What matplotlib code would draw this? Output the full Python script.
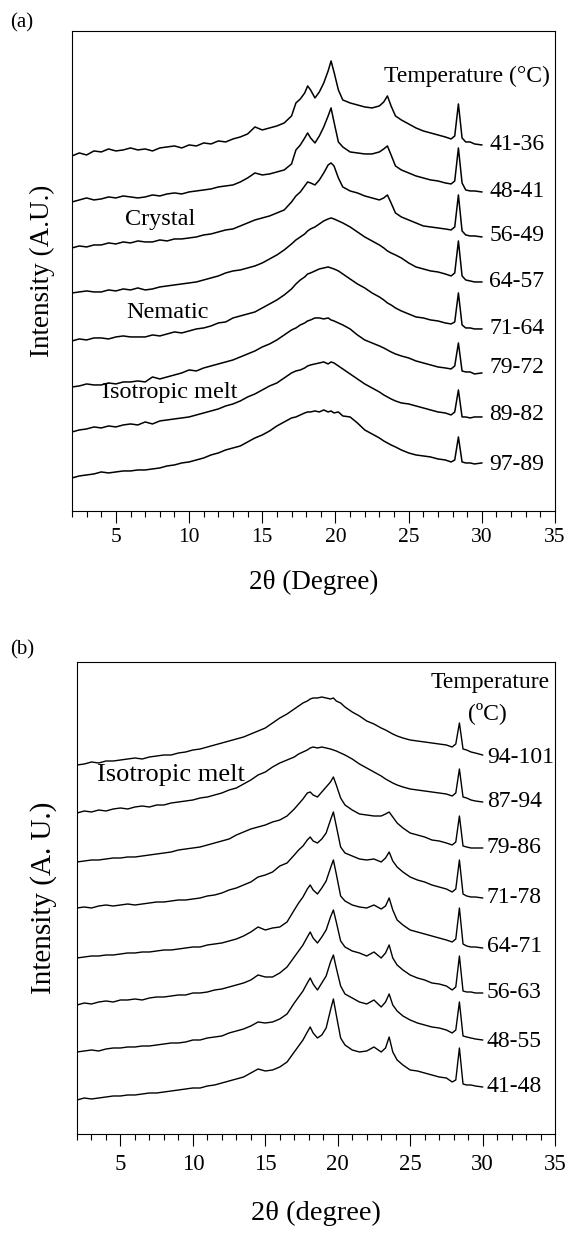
import matplotlib
import matplotlib.pyplot as plt
from matplotlib.ticker import MultipleLocator

matplotlib.use("Agg")
plt.rcParams["font.family"] = ["Liberation Serif", "DejaVu Serif"]

# 2-theta sampling points (degree), shared by every trace
TWO_THETA = [2.0, 2.5, 3.0, 3.5, 4.0, 4.5, 5.0, 5.5, 6.0, 6.5, 7.0, 7.5, 8.0,
             8.5, 9.0, 9.5, 10.0, 10.5, 11.0, 11.5, 12.0, 12.5, 13.0, 13.5,
             14.0, 14.5, 15.0, 15.5, 16.0, 16.5, 17.0, 17.3, 17.6, 17.9, 18.1,
             18.3, 18.6, 18.9, 19.2, 19.5, 19.7, 19.9, 20.2, 20.5, 21.0, 21.5,
             22.0, 22.5, 23.0, 23.3, 23.55, 23.8, 24.1, 24.5, 25.0, 25.5, 26.0,
             26.5, 27.0, 27.5, 27.9, 28.15, 28.4, 28.65, 28.9, 29.2, 29.5, 30.0]

# ---- panel (a): cooling scans, intensity above each trace's own start ----
a_41_36 = [0, 3, 1, 5, 4, 7, 5, 6, 8, 6, 7, 5, 8, 9, 10, 8, 11, 10, 13, 12,
           15, 14, 17, 19, 22, 29,
           26, 28, 30, 33, 40, 53, 57, 63, 70, 66, 58, 64, 73, 85, 95, 84, 66,
           56, 53, 51, 49, 48, 50, 54, 60, 50, 40, 36, 32, 28, 25, 23, 21, 19,
           17, 20, 52, 18, 14, 14, 12, 11]
a_48_41 = [0, 2, 4, 2, 3, 5, 4, 6, 5, 4, 5, 7, 6, 8, 9, 8, 10, 11, 12, 13,
           15, 16, 17, 20, 24, 29,
           27, 28, 30, 32, 38, 52, 57, 64, 69, 64, 59, 66, 75, 86, 94, 80, 60,
           55, 50, 49, 48, 48, 50, 53, 56, 47, 36, 32, 29, 26, 24, 22, 21, 19,
           18, 21, 54, 19, 12, 11, 11, 10]
a_56_49 = [0, 2, 1, 3, 3, 5, 4, 6, 5, 7, 6, 6, 8, 7, 9, 9, 10, 11, 13, 14,
           16, 18, 19, 22, 25, 28,
           30, 32, 35, 38, 46, 52, 56, 62, 66, 65, 63, 68, 75, 83, 85, 82, 70,
           61, 57, 55, 52, 50, 48, 50, 53, 45, 35, 31, 28, 25, 22, 21, 20, 19,
           18, 21, 53, 17, 13, 12, 12, 11]
a_64_57 = [0, 1, 2, 1, 1, 3, 2, 4, 3, 5, 3, 4, 6, 7, 8, 9, 10, 11, 13, 15,
           17, 20, 22, 23, 25, 27,
           30, 34, 38, 43, 49, 53, 56, 59, 62, 64, 66, 69, 72, 74, 75, 74, 72,
           70, 66, 61, 56, 52, 48, 45, 42, 40, 38, 35, 30, 26, 24, 22, 21, 19,
           17, 20, 52, 17, 13, 12, 11, 11]
a_71_64 = [0, 2, 1, 3, 3, 2, 4, 5, 4, 4, 4, 6, 5, 7, 9, 8, 10, 12, 13, 15,
           18, 19, 23, 25, 27, 29,
           33, 37, 41, 46, 52, 57, 61, 64, 67, 68, 70, 72, 73, 74, 73, 72, 70,
           67, 62, 57, 53, 48, 44, 41, 38, 36, 33, 30, 27, 24, 23, 21, 20, 18,
           17, 19, 48, 16, 13, 13, 12, 12]
a_79_72 = [0, 1, 3, 2, 2, 4, 3, 5, 5, 6, 5, 10, 8, 10, 12, 14, 17, 16, 19, 21,
           23, 25, 27, 30, 33, 36,
           40, 43, 47, 52, 57, 59, 62, 64, 66, 67, 69, 69, 68, 69, 67, 66, 64,
           62, 58, 52, 47, 44, 41, 39, 37, 35, 33, 31, 29, 26, 24, 22, 20, 19,
           18, 21, 44, 16, 15, 15, 13, 14]
a_89_82 = [0, 2, 3, 5, 4, 6, 5, 7, 8, 7, 10, 8, 11, 12, 13, 14, 15, 17, 19, 21,
           23, 26, 28, 31, 35, 38,
           42, 46, 49, 54, 59, 61, 62, 64, 66, 67, 68, 69, 70, 68, 70, 69, 66,
           63, 58, 53, 48, 44, 40, 37, 35, 33, 31, 29, 28, 26, 24, 22, 20, 19,
           17, 20, 42, 15, 15, 14, 15, 15]
a_97_89 = [0, 2, 3, 4, 6, 5, 6, 7, 7, 8, 8, 9, 10, 12, 13, 15, 16, 18, 20, 23,
           25, 28, 30, 32, 36, 40,
           43, 47, 52, 56, 60, 61, 63, 65, 66, 66, 67, 66, 68, 66, 67, 65, 66,
           62, 61, 55, 48, 44, 40, 37, 35, 33, 31, 28, 25, 23, 22, 21, 19, 18,
           16, 18, 41, 16, 15, 15, 14, 15]

A_CURVES = [a_41_36, a_48_41, a_56_49, a_64_57,
            a_71_64, a_79_72, a_89_82, a_97_89]
A_OFFSETS = [355, 309, 263, 218, 170, 124, 79, 33]
A_LABELS = ["41-36", "48-41", "56-49", "64-57",
            "71-64", "79-72", "89-82", "97-89"]
A_LABEL_Y = [366, 319, 275, 229, 182, 143, 96, 46]

# ---- panel (b): heating scans ----
b_94_101 = [0, 1, 3, 2, 4, 4, 5, 6, 7, 6, 8, 9, 10, 10, 12, 13, 15, 16, 18, 20,
            22, 24, 26, 28, 31, 34,
            37, 42, 47, 51, 56, 59, 62, 64, 66, 67, 67, 68, 67, 66, 67, 64, 62,
            58, 53, 49, 44, 41, 37, 35, 33, 31, 29, 27, 25, 24, 23, 22, 21, 20,
            18, 21, 42, 16, 15, 13, 12, 10]
b_87_94 = [0, 2, 1, 3, 2, 4, 5, 4, 6, 7, 6, 8, 8, 10, 11, 12, 13, 15, 16, 18,
           20, 23, 25, 29, 33, 38,
           41, 46, 50, 53, 56, 59, 61, 63, 65, 66, 65, 66, 65, 64, 63, 62, 60,
           58, 54, 49, 45, 41, 37, 34, 32, 30, 28, 26, 24, 23, 22, 21, 20, 19,
           17, 20, 44, 16, 15, 13, 12, 11]
b_79_86 = [0, 1, 2, 2, 3, 4, 4, 5, 5, 6, 7, 8, 9, 10, 12, 13, 14, 15, 17, 19,
           21, 23, 27, 30, 33, 35,
           37, 40, 42, 46, 53, 58, 63, 69, 70, 67, 65, 70, 75, 80, 85, 77, 64,
           57, 52, 48, 47, 46, 46, 48, 50, 45, 39, 34, 29, 27, 25, 22, 21, 19,
           17, 20, 46, 16, 15, 14, 14, 14]
b_71_78 = [0, 1, 0, 2, 3, 2, 3, 4, 3, 4, 5, 6, 6, 7, 8, 8, 9, 10, 12, 13,
           15, 18, 20, 23, 26, 31,
           33, 36, 42, 45, 53, 58, 62, 68, 71, 67, 65, 69, 75, 88, 96, 82, 61,
           55, 52, 49, 48, 49, 46, 50, 56, 47, 41, 36, 31, 28, 26, 23, 21, 19,
           16, 19, 48, 14, 12, 11, 11, 10]
b_64_71 = [0, 1, 2, 2, 3, 3, 4, 5, 5, 6, 6, 7, 8, 8, 9, 10, 11, 11, 13, 14,
           15, 17, 19, 22, 26, 31,
           28, 30, 31, 36, 48, 55, 61, 69, 73, 68, 64, 70, 77, 90, 98, 84, 62,
           57, 53, 51, 50, 53, 49, 52, 60, 48, 38, 33, 28, 26, 24, 22, 20, 18,
           16, 19, 50, 14, 12, 11, 11, 10]
b_56_63 = [0, 2, 1, 3, 4, 3, 5, 5, 6, 5, 7, 8, 8, 9, 10, 10, 12, 12, 13, 15,
           16, 18, 20, 22, 25, 30,
           28, 28, 32, 38, 48, 54, 60, 68, 73, 67, 62, 68, 75, 88, 95, 83, 64,
           58, 54, 52, 49, 53, 47, 52, 60, 47, 40, 35, 30, 27, 25, 22, 21, 19,
           15, 18, 49, 14, 13, 13, 12, 12]
b_48_55 = [0, 1, 2, 1, 3, 4, 4, 5, 5, 6, 6, 7, 8, 9, 9, 10, 12, 12, 14, 15,
           16, 19, 21, 23, 26, 30,
           29, 30, 33, 38, 49, 55, 61, 69, 74, 68, 62, 69, 76, 90, 97, 84, 66,
           58, 54, 50, 48, 52, 45, 50, 58, 47, 41, 36, 32, 29, 27, 25, 24, 22,
           19, 22, 50, 16, 15, 14, 13, 12]
b_41_48 = [0, 2, 1, 2, 3, 4, 4, 5, 5, 6, 7, 7, 8, 9, 10, 11, 12, 12, 14, 15,
           17, 19, 21, 23, 27, 31,
           29, 30, 33, 38, 48, 54, 60, 68, 73, 67, 62, 65, 72, 90, 101, 85, 62,
           55, 50, 48, 49, 53, 48, 52, 63, 48, 40, 35, 30, 29, 27, 25, 23, 22,
           18, 20, 52, 16, 15, 15, 14, 13]

B_CURVES = [b_94_101, b_87_94, b_79_86, b_71_78,
            b_64_71, b_56_63, b_48_55, b_41_48]
B_OFFSETS = [369, 321, 272, 226, 176, 129, 82, 34]
B_LABELS = ["94-101", "87-94", "79-86", "71-78",
            "64-71", "56-63", "48-55", "41-48"]
B_LABEL_Y = [376, 332, 286, 236, 187, 141, 92, 47]


def draw_panel(ax, curves, offsets, labels, label_y, label_x, ymax,
               lw, tick_size, tick_pad):
    for trace, off in zip(curves, offsets):
        ax.plot(TWO_THETA, [v + off for v in trace], color="black",
                lw=lw, solid_joinstyle="round")
    for lab, y in zip(labels, label_y):
        ax.text(label_x, y, lab, fontsize=17, ha="left", va="center")

    ax.set_xlim(2, 35)
    ax.set_ylim(0, ymax)
    ax.set_yticks([])
    ax.xaxis.set_major_locator(MultipleLocator(5))
    ax.xaxis.set_minor_locator(MultipleLocator(1))
    ax.set_xticks([5, 10, 15, 20, 25, 30, 35])
    ax.tick_params(axis="x", which="major", direction="out", length=8.5,
                   width=0.8, labelsize=tick_size, pad=tick_pad)
    ax.tick_params(axis="x", which="minor", direction="out", length=4.5,
                   width=0.8)
    for sp in ax.spines.values():
        sp.set_linewidth(0.8)


fig = plt.figure(figsize=(5.7, 12.33), dpi=100)

# (a)
ax_a = fig.add_axes([0.1263, 0.5856, 0.8474, 0.3893])
draw_panel(ax_a, A_CURVES, A_OFFSETS, A_LABELS, A_LABEL_Y, 30.5, 480,
           1.1, 15.5, 4)
ax_a.text(34.65, 435, "Temperature (°C)", fontsize=17, ha="right",
          va="center")
ax_a.text(8.0, 291, "Crystal", fontsize=17.5, ha="center", va="center")
ax_a.text(8.5, 198, "Nematic", fontsize=17.5, ha="center", va="center")
ax_a.text(8.7, 118, "Isotropic melt", fontsize=17.5, ha="center",
          va="center")
ax_a.set_xlabel("2θ (Degree)", fontsize=19.5)
ax_a.xaxis.set_label_coords(0.5, -0.148)
ax_a.xaxis.label.set_va("center")
ax_a.set_ylabel("Intensity (A.U.)", fontsize=19.5)
ax_a.yaxis.set_label_coords(-0.062, 0.5)
ax_a.yaxis.label.set_va("center")

# (b)
ax_b = fig.add_axes([0.1351, 0.0803, 0.8386, 0.3828])
draw_panel(ax_b, B_CURVES, B_OFFSETS, B_LABELS, B_LABEL_Y, 30.3, 472,
           1.0, 16.5, 6)
ax_b.text(34.6, 451, "Temperature", fontsize=17, ha="right", va="center")
ax_b.text(30.3, 421, "(ºC)", fontsize=17, ha="center", va="center")
ax_b.text(8.5, 359, "Isotropic melt", fontsize=19, ha="center",
          va="center")
ax_b.set_xlabel("2θ (degree)", fontsize=20.5)
ax_b.xaxis.set_label_coords(0.5, -0.169)
ax_b.xaxis.label.set_va("center")
ax_b.set_ylabel("Intensity (A. U.)", fontsize=21)
ax_b.yaxis.set_label_coords(-0.069, 0.5)
ax_b.yaxis.label.set_va("center")

fig.text(0.0175, 0.9813, "(a)", fontsize=15, ha="left", va="center")
fig.text(0.0175, 0.4728, "(b)", fontsize=15, ha="left", va="center")

fig.savefig("out.png", dpi=100)
plt.close(fig)
